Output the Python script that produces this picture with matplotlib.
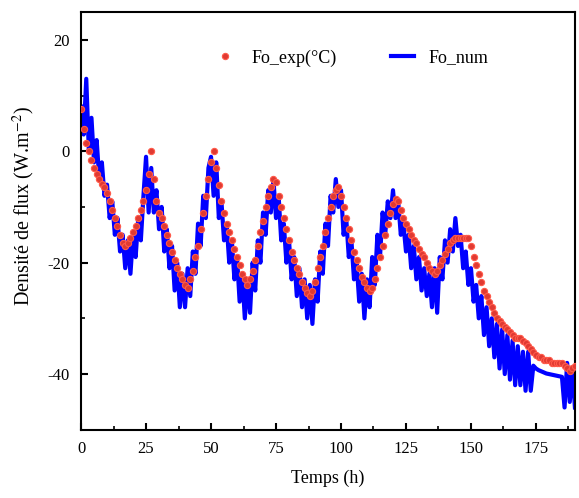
import numpy as np
import matplotlib.pyplot as plt
from matplotlib.ticker import MultipleLocator

plt.rcParams['font.family'] = ['Liberation Serif', 'DejaVu Serif']
plt.rcParams['mathtext.fontset'] = 'stix'
plt.rcParams['axes.unicode_minus'] = False

# temps (h), pas de 1 h
temps = np.arange(0, 191)

fo_exp = [
    7.5, 4, 1.5, 0, -1.5, -3, -4, -5, -5.8, -6.5,
    -7.5, -9, -10.5, -12, -13.5, -15, -16.5, -17, -16.5, -15.5,
    -14.5, -13.5, -12, -10.5, -9, -7, -4, 0, -5, -9,
    -11, -12, -13.5, -15, -16.5, -18, -19.5, -21, -22, -23,
    -24, -24.5, -23, -21.5, -19, -17, -14, -11, -8, -5,
    -2, 0, -3, -6, -9, -11, -13, -14.5, -16, -17.5,
    -19, -20.5, -22, -23, -24, -23, -21.5, -19.5, -17, -14.5,
    -12.5, -10, -8, -6.5, -5, -5.5, -8, -10, -12, -14,
    -16, -18, -19.5, -21, -22, -23.5, -24.5, -25.5, -26, -25,
    -23.5, -21, -19, -17, -14.5, -12, -10, -8, -7, -6.5,
    -8, -10, -12, -14, -16, -18, -19.5, -21, -22.5, -23.5,
    -24.5, -25, -24.5, -23, -21, -19, -17, -15, -13, -11,
    -9.5, -8.5, -9, -10.5, -12, -13, -14, -15, -16, -16.5,
    -17.5, -18.5, -19, -20, -21, -21.5, -22, -21.5, -20.5, -19.5,
    -18.5, -17.5, -16.5, -16, -15.5, -15.5, -15.5, -15.5, -15.5, -15.5,
    -17, -19, -20.5, -22, -23.5, -25, -26, -27, -28, -29,
    -30, -30.5, -31, -31.5, -32, -32.5, -33, -33.5, -33.5, -33.5,
    -34, -34.5, -35, -35.5, -36, -36.5, -37, -37, -37.5, -37.5,
    -37.5, -38, -38, -38, -38, -38, -38.5, -39, -39.5, -39,
    -38.5,
]

# Fo_num : simulation
fo_num = [
    8, 3, 13, 0, 6, -2, 2, -5, -2, -8,
    -6, -12, -9, -15, -12, -18, -15, -21, -16, -22,
    -15, -19, -12, -16, -8, -1, -11, -3, -11, -7,
    -14, -10, -18, -14, -21, -17, -25, -20, -28, -22,
    -28, -21, -26, -18, -22, -13, -17, -8, -12, -3,
    -1, -8, -2, -12, -9, -16, -13, -20, -16, -23,
    -19, -27, -22, -30, -23, -29, -20, -25, -16, -20,
    -11, -15, -7, -11, -5, -12, -8, -16, -13, -20,
    -16, -23, -19, -26, -21, -28, -23, -30, -24, -31,
    -23, -27, -18, -22, -13, -17, -8, -11, -5, -10,
    -7, -15, -12, -19, -16, -23, -20, -27, -22, -30,
    -23, -28, -19, -24, -15, -19, -11, -15, -9, -12,
    -7, -12, -9, -15, -13, -18, -15, -21, -17, -23,
    -19, -25, -21, -26, -22, -28, -21, -29, -19, -23,
    -16, -20, -14, -18, -12, -17, -15, -21, -18, -24,
    -21, -27, -24, -30, -26, -33, -28, -35, -30, -37,
    -31, -39, -32, -40, -33, -41, -34, -42, -35, -42,
    -36, -43, -36, -43, -38.5, -39, -39.3, -39.5, -39.7, -39.9,
    -40, -40.1, -40.2, -40.3, -40.4, -40.5, -46, -38, -45, -39,
    -46,
]

fig, ax = plt.subplots(figsize=(5.79, 4.98), dpi=100)
fig.subplots_adjust(left=0.140, right=0.993, bottom=0.137, top=0.976)

l_num, = ax.plot(temps, fo_num, color='#0000ff', lw=3.0, zorder=2, label='Fo_num')
l_exp, = ax.plot(temps, fo_exp, ls='none', marker='o', ms=4.5, mfc='#e03a32',
                 mec='#ff5a4a', mew=0.8, zorder=3, label='Fo_exp(°C)')

ax.set_xlim(0, 190)
ax.set_ylim(-50, 25)
ax.xaxis.set_major_locator(MultipleLocator(25))
ax.xaxis.set_minor_locator(MultipleLocator(12.5))
ax.yaxis.set_major_locator(MultipleLocator(20))
ax.yaxis.set_minor_locator(MultipleLocator(10))
ax.tick_params(which='both', direction='in', labelsize=12)
ax.tick_params(which='major', length=5, width=1.5, pad=8)
ax.tick_params(which='minor', length=3, width=1.2)
for s in ax.spines.values():
    s.set_linewidth(1.5)

ax.set_xlabel('Temps (h)', fontsize=13, labelpad=9)
ax.set_ylabel('Densité de flux (W.m$^{-2}$)', fontsize=14.5)
ax.yaxis.set_label_coords(-0.089, 0.536)

ax.legend(handles=[l_exp, l_num], loc='center left', bbox_to_anchor=(0.235, 0.89),
          ncol=2, frameon=False, fontsize=13, columnspacing=3.0, handlelength=1.3)

fig.savefig('out.png')
